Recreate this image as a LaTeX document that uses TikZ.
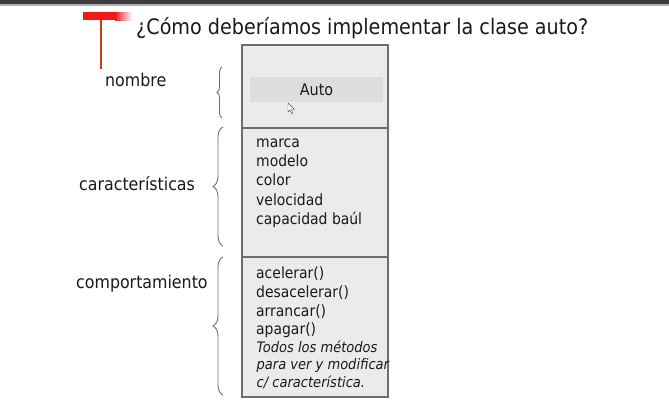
\documentclass[tikz,border=0pt]{standalone}
\usepackage{fontspec}
\setmainfont{DejaVu Sans Condensed}
\usetikzlibrary{decorations.pathreplacing}
\definecolor{boxfill}{HTML}{EBEBEB}
\definecolor{autofill}{HTML}{DDDDDD}
\definecolor{boxline}{HTML}{6E6E6E}
\definecolor{txt}{HTML}{1A1A1A}
\definecolor{topbar}{HTML}{3C3C3C}
\definecolor{redbar}{HTML}{F01818}
\definecolor{redline}{HTML}{C8401A}
\tikzset{
  lbl/.style={anchor=base west, inner sep=0pt, text=txt, font=\fontsize{17.6}{20}\selectfont},
  item/.style={anchor=base west, inner sep=0pt, text=txt, font=\fontsize{15.5}{18}\selectfont},
  note/.style={anchor=base west, inner sep=0pt, text=txt, font=\fontsize{14.5}{17}\selectfont\itshape},
  brc/.style={draw=boxline, line width=0.9pt, decorate},
  part/.style={draw=boxline, fill=boxfill, line width=1.1pt}
}
\begin{document}
\begin{tikzpicture}[x=1pt,y=-1pt]
\path[use as bounding box, fill=white] (0,0) rectangle (669,405);
% top bar
\fill[topbar] (0,0) rectangle (669,4);
\fill[gray!60] (0,4) rectangle (669,5.5);
% red mark
\fill[redbar] (83,12) rectangle (115,20);
\shade[left color=redbar, right color=white] (115,12) rectangle (132,20);
\draw[redline, line width=1.4pt] (101,20) -- (101,69);
% title
\node[anchor=base west, inner sep=0pt, text=txt, font=\fontsize{21.3}{24}\selectfont] (title) at (136,34) {¿Cómo deberíamos implementar la clase auto?};
% class box
\path[part] (242,45) rectangle (388,128);
\path[part] (242,128) rectangle (388,257);
\path[part] (242,257) rectangle (388,397);
\coordinate (b1t) at (222,67);
\coordinate (b1b) at (222,118);
\coordinate (b2t) at (223,127);
\coordinate (b2b) at (223,246);
\coordinate (b3t) at (223,257);
\coordinate (b3b) at (223,395);
\fill[autofill] (250,77) rectangle (383,102);
\node[inner sep=0pt, text=txt, font=\fontsize{16}{18}\selectfont] (auto) at (316.5,90) {Auto};
% cursor
\draw[black!70, fill=white, line width=0.4pt] (288,103) -- (288,112) -- (290,110) -- (292,114) -- (293,113.5) -- (291.5,109.5) -- (294.5,109.5) -- cycle;
% attributes
\node[item] (a1) at (256,147) {marca};
\node[item] (a2) at (256,166.5) {modelo};
\node[item] (a3) at (256,185.5) {color};
\node[item] (a4) at (256,205) {velocidad};
\node[item] (a5) at (256,224) {capacidad baúl};
% methods
\node[item] (m1) at (256,278) {acelerar()};
\node[item] (m2) at (256,297) {desacelerar()};
\node[item] (m3) at (256,316) {arrancar()};
\node[item] (m4) at (256,334.5) {apagar()};
\node[note] (n1) at (256.5,352) {Todos los métodos};
\node[note] (n2) at (256.5,369.5) {para ver y modificar};
\node[note] (n3) at (256.5,387) {c/ característica.};
% labels
\node[lbl] (nombre) at (105,86) {nombre};
\node[lbl] (carac) at (79,190) {características};
\node[lbl] (comp) at (76,288) {comportamiento};
% braces
\draw[brc, decoration={brace, amplitude=5pt}] (b1b) -- (b1t);
\draw[brc, decoration={brace, amplitude=10pt}] (b2b) -- (b2t);
\draw[brc, decoration={brace, amplitude=10pt}] (b3b) -- (b3t);
\end{tikzpicture}
\end{document}
